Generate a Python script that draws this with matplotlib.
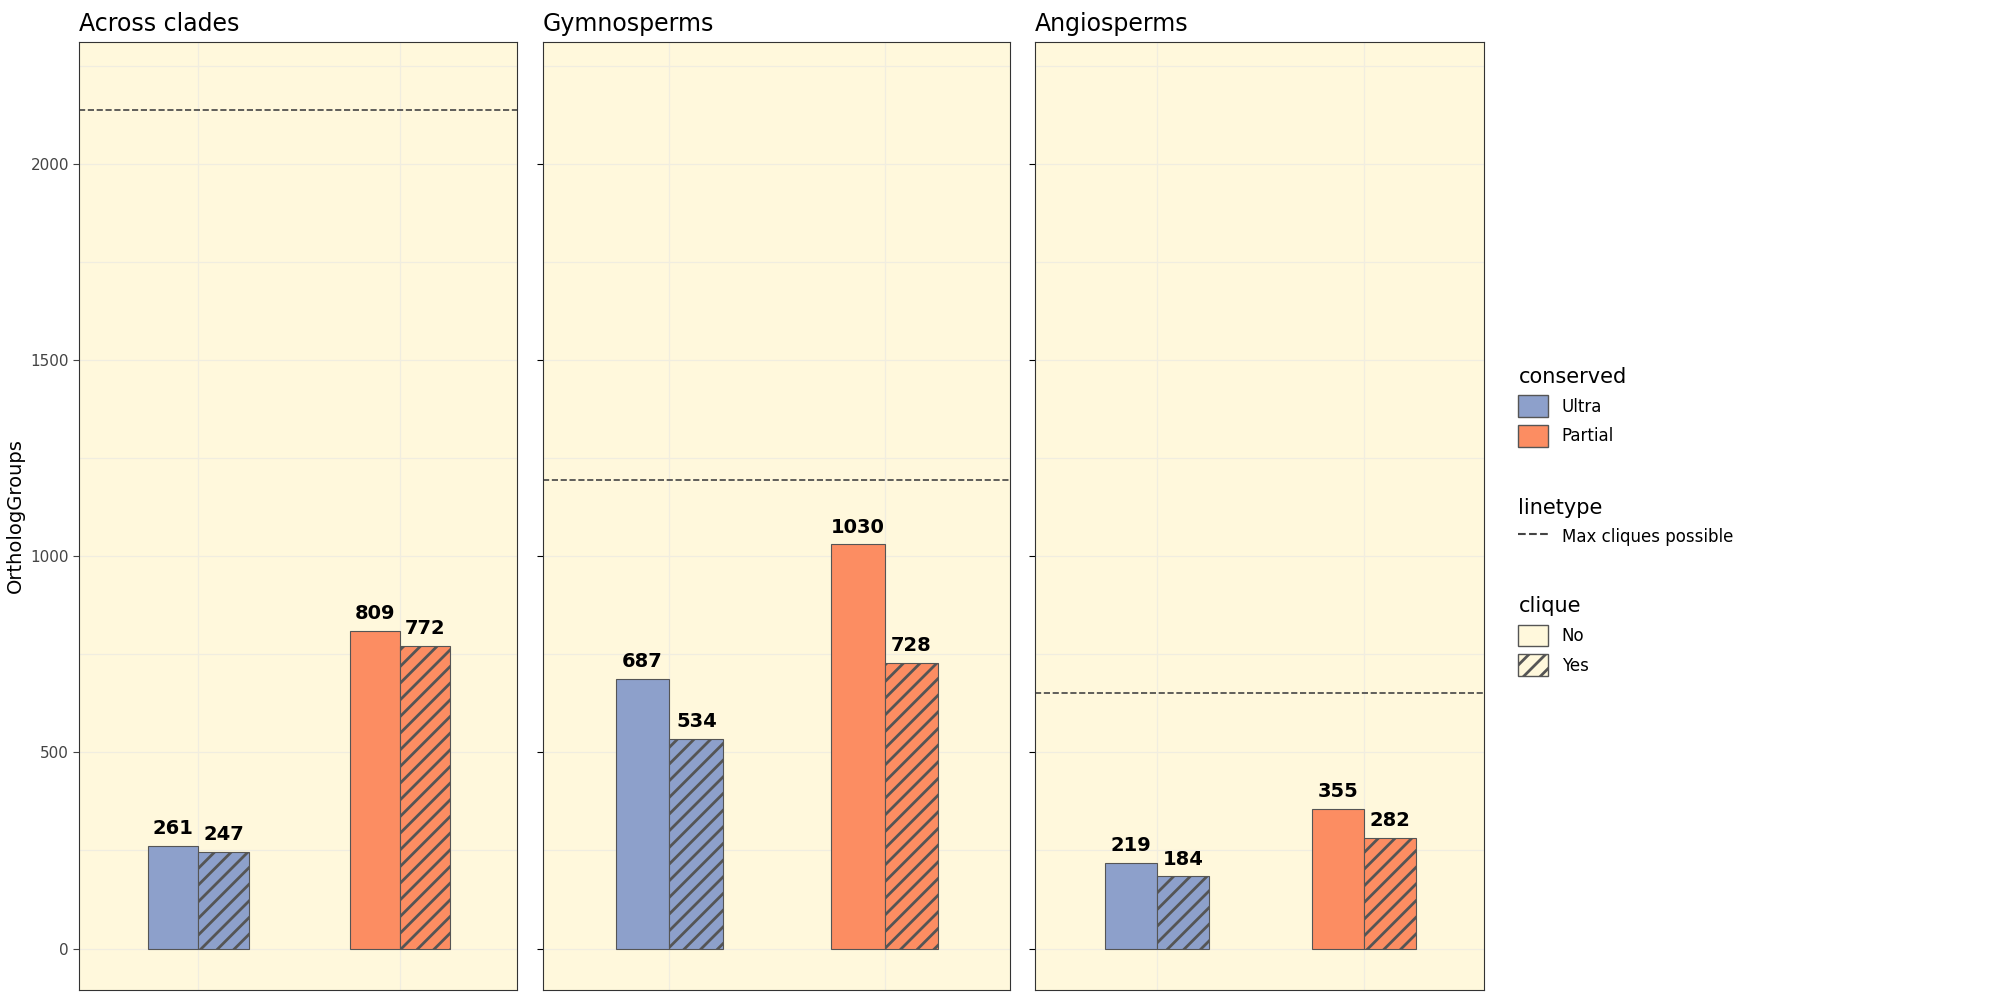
import matplotlib.pyplot as plt
from matplotlib.patches import Patch
from matplotlib.lines import Line2D
plt.rcParams['hatch.color'] = '#555555'
plt.rcParams['hatch.linewidth'] = 2.0

panels = ["Across clades", "Gymnosperms", "Angiosperms"]
conserved = ["Ultra", "Partial"]
no_vals = [[261, 809], [687, 1030], [219, 355]]
yes_vals = [[247, 772], [534, 728], [184, 282]]
max_cliques = [2137, 1194, 652]
colors = {"Ultra": "#8DA0CB", "Partial": "#FC8D62"}
bg = "#FFF8DC"

fig = plt.figure(figsize=(19.96, 10), dpi=100)
W, H = 1560, 781
xs = [(62, 404), (424, 789), (809, 1160)]
top, bot = 33, 773
w = 0.25
for i, (l, r) in enumerate(xs):
    ax = fig.add_axes([l / W, 1 - bot / H, (r - l) / W, (bot - top) / H])
    ax.set_facecolor(bg)
    ax.set_xlim(-0.59, 1.58)
    ax.set_ylim(-105, 2310)
    ax.set_yticks([0, 500, 1000, 1500, 2000])
    ax.set_yticks([250, 750, 1250, 1750, 2250], minor=True)
    ax.set_xticks([0, 1])
    ax.grid(True, which='both', color='#F0EDE0', lw=0.9)
    ax.set_axisbelow(True)
    ax.tick_params(axis='x', length=0, labelbottom=False)
    ax.tick_params(axis='y', which='minor', length=0)
    if i == 0:
        ax.tick_params(axis='y', labelsize=11, colors='#444444', length=4)
        ax.set_ylabel("OrthologGroups", fontsize=14)
    else:
        ax.tick_params(axis='y', labelleft=False, length=4)
    for j, c in enumerate(conserved):
        ax.bar(j - w / 2, no_vals[i][j], w, color=colors[c], edgecolor='#555555', lw=0.8)
        ax.bar(j + w / 2, yes_vals[i][j], w, color=colors[c], edgecolor='#555555', lw=0.8, hatch='//')
        ax.text(j - w / 2, no_vals[i][j] + 20, str(no_vals[i][j]), ha='center', va='bottom', fontsize=14, fontweight='bold')
        ax.text(j + w / 2, yes_vals[i][j] + 20, str(yes_vals[i][j]), ha='center', va='bottom', fontsize=14, fontweight='bold')
    ax.axhline(max_cliques[i], ls='--', color='#444444', lw=1.2)
    ax.set_title(panels[i], loc='left', fontsize=17, pad=8)
    for s in ax.spines.values():
        s.set_color('#333333')

kw = dict(frameon=False, loc='upper left', alignment='left', fontsize=12, title_fontsize=15,
          handlelength=1.8, handleheight=1.6)
leg1 = fig.legend([Patch(facecolor=colors[c], edgecolor='#555555') for c in conserved], conserved,
                  title="conserved", bbox_to_anchor=(1175 / W, 1 - 275 / H), **kw)
leg2 = fig.legend([Line2D([], [], ls='--', color='#444444')], ["Max cliques possible"],
                  title="linetype", bbox_to_anchor=(1175 / W, 1 - 377 / H), **kw)
leg3 = fig.legend([Patch(facecolor=bg, edgecolor='#555555'), Patch(facecolor=bg, edgecolor='#555555', hatch='//')],
                  ["No", "Yes"], title="clique", bbox_to_anchor=(1175 / W, 1 - 454 / H), **kw)
fig.savefig("out.png", dpi=100)
